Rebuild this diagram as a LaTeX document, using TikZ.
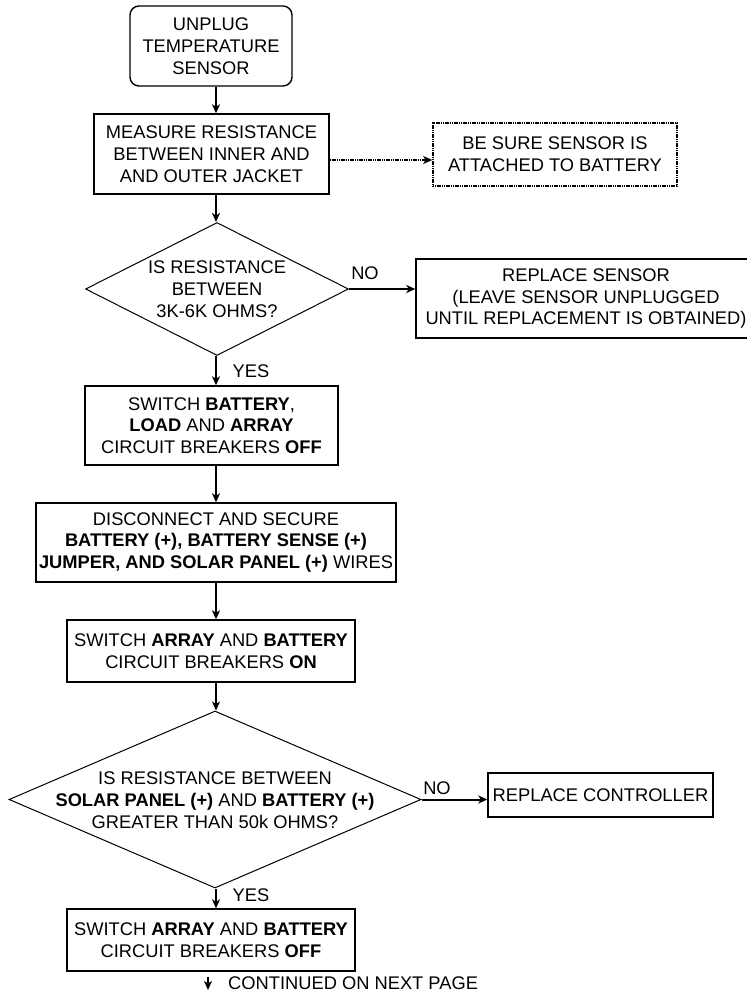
\documentclass[tikz,border=0pt]{standalone}
\usepackage{fontspec}
\setmainfont{Liberation Sans}
\usetikzlibrary{shapes.geometric,arrows.meta}
\begin{document}
\begin{tikzpicture}[x=1pt,y=1pt,
  every node/.style={font=\fontsize{18.3}{21.7}\selectfont, align=center, inner sep=0pt},
  box/.style={draw, line width=1.4pt, rectangle},
  dbox/.style={draw, line width=1.6pt, rectangle, dash pattern=on 1.2pt off 0.6pt},
  dia/.style={draw, line width=1pt, diamond},
  arr/.style={line width=2pt, -{Stealth[length=9pt,width=8pt,inset=2.5pt]}},
  darr/.style={line width=1.8pt, dash pattern=on 1.2pt off 0.6pt, -{Stealth[length=9pt,width=8pt,inset=2.5pt]}}
]
\useasboundingbox (0,0) rectangle (747,-994);
\coordinate (col) at (216,0);

\node[box, rounded corners=9pt, minimum width=162pt, minimum height=80pt] (b1) at (211,-46) {UNPLUG\\TEMPERATURE\\SENSOR};
\node[box, minimum width=235pt, minimum height=80pt] (b2) at (211.5,-154) {MEASURE RESISTANCE\\BETWEEN INNER AND\\AND OUTER JACKET};
\node[dbox, minimum width=244pt, minimum height=63pt] (b3) at (555,-154.5) {BE SURE SENSOR IS\\ATTACHED TO BATTERY};
\node[dia, minimum width=263pt, minimum height=133pt] (d1) at (217,-289) {};
\node (t1) at (217,-289) {IS RESISTANCE\\BETWEEN\\3K-6K OHMS?};
\node[box, minimum width=333pt, minimum height=79pt] (b4) at (582.5,-298.5) {};
\node (t4) at (586,-298.5) {REPLACE SENSOR\\(LEAVE SENSOR UNPLUGGED\\UNTIL REPLACEMENT IS OBTAINED)};
\node[box, minimum width=253pt, minimum height=79pt] (b5) at (211.5,-425.5) {SWITCH \textbf{BATTERY},\\\textbf{LOAD} AND \textbf{ARRAY}\\CIRCUIT BREAKERS \textbf{OFF}};
\node[box, minimum width=360pt, minimum height=79pt] (b6) at (216,-542.5) {DISCONNECT AND SECURE\\\textbf{BATTERY (+), BATTERY SENSE (+)}\\\textbf{JUMPER, AND SOLAR PANEL (+)} WIRES};
\node[box, minimum width=288pt, minimum height=62pt] (b7) at (211,-651) {SWITCH \textbf{ARRAY} AND \textbf{BATTERY}\\CIRCUIT BREAKERS \textbf{ON}};
\node[dia, minimum width=412pt, minimum height=177pt] (d2) at (215,-799.5) {};
\node (t2) at (215,-800) {IS RESISTANCE BETWEEN\\\textbf{SOLAR PANEL (+)} AND \textbf{BATTERY (+)}\\GREATER THAN 50k OHMS?};
\node[box, minimum width=225pt, minimum height=44pt] (b8) at (600.5,-795) {REPLACE CONTROLLER};
\node[box, minimum width=288pt, minimum height=62pt] (b9) at (211,-940) {SWITCH \textbf{ARRAY} AND \textbf{BATTERY}\\CIRCUIT BREAKERS \textbf{OFF}};

\node (no1) at (365,-273) {NO};
\node (yes1) at (251,-371) {YES};
\node (no2) at (437,-788) {NO};
\node (yes2) at (251,-895) {YES};
\coordinate (cont) at (208,-990);
\node[anchor=west] (ctext) at (228,-983) {CONTINUED ON NEXT PAGE};

\draw[arr] (b1.south -| col) -- (b2.north -| col);
\draw[darr] ([yshift=-6pt]b2.east) -- ([yshift=-5.5pt]b3.west);
\draw[arr] (b2.south -| col) -- (d1.north -| col);
\draw[arr] (d1.east) -- (d1.east -| b4.west);
\draw[arr] (d1.south -| col) -- (b5.north -| col);
\draw[arr] (b5.south -| col) -- (b6.north -| col);
\draw[arr] (b6.south -| col) -- (b7.north -| col);
\draw[arr] (b7.south -| col) -- (d2.north -| col);
\draw[arr] (d2.east) -- (d2.east -| b8.west);
\draw[arr] (d2.south -| col) -- (b9.north -| col);
\draw[arr] ([yshift=-5pt]b9.south -| cont) -- (cont);
\end{tikzpicture}
\end{document}
